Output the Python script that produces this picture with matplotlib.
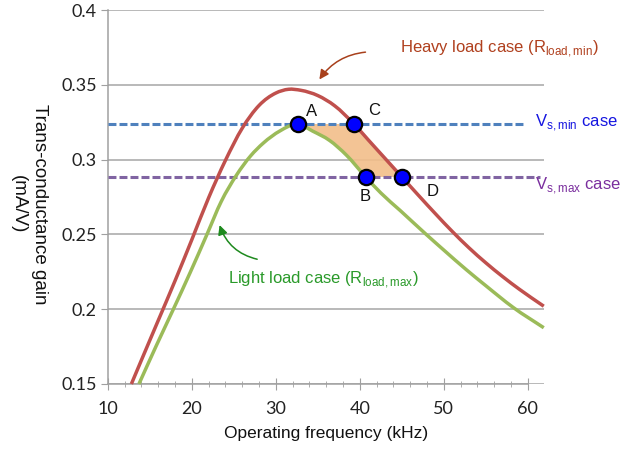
import matplotlib
matplotlib.use("Agg")
import matplotlib.pyplot as plt
from matplotlib.path import Path
from matplotlib.patches import PathPatch
import numpy as np

# ---- data ----
heavy_f = [12.8, 14, 16, 18, 20, 22, 24, 26, 28, 30, 31.5, 33, 35, 37, 39.3, 41, 43, 45,
           47, 49, 51, 53, 55, 57, 59, 61.9]
heavy_g = [0.150, 0.166, 0.1925, 0.219, 0.2465, 0.2745, 0.2995, 0.3210, 0.3362, 0.3445,
           0.347, 0.3463, 0.3428, 0.3360, 0.3238, 0.3132, 0.3008, 0.2884, 0.2760, 0.2638,
           0.2520, 0.2410, 0.2310, 0.2218, 0.2133, 0.2020]

light_f = [13.7, 15.8, 17.8, 19.8, 21.8, 23.5, 25.3, 27, 28.5, 30.5, 32.6, 34.4, 36.4,
           38.4, 40.7, 42.5, 44.8, 47.9, 50, 52.7, 55, 58.25, 61.9]
light_g = [0.150, 0.176, 0.200, 0.2245, 0.250, 0.272, 0.2895, 0.3025, 0.311, 0.3192,
           0.3238, 0.3190, 0.3128, 0.3030, 0.2884, 0.2777, 0.2660, 0.2500, 0.2395, 0.2263,
           0.2157, 0.2012, 0.1876]

vs_min, vs_max = 0.3238, 0.2884
pt_names = ["A", "C", "B", "D"]
pt_f = [32.6, 39.3, 40.7, 45.0]
pt_g = [vs_min, vs_min, vs_max, vs_max]

RED, GREEN, BLUE_D, PURP_D = "#C0504D", "#9BBB59", "#4F81BD", "#8064A2"
plt.rcParams["font.family"] = ["Liberation Sans", "DejaVu Sans"]


def bez_segments(xs, ys):
    """Cubic Hermite (x-monotone) segments through the points, as Bezier controls."""
    x, y = np.asarray(xs, float), np.asarray(ys, float)
    d = np.diff(y) / np.diff(x)
    m = np.empty_like(y)
    m[0], m[-1] = d[0], d[-1]
    h = np.diff(x)
    m[1:-1] = (d[:-1] * h[1:] + d[1:] * h[:-1]) / (h[:-1] + h[1:])
    segs = []
    for i in range(len(x) - 1):
        p0, p1 = (x[i], y[i]), (x[i + 1], y[i + 1])
        c1 = (x[i] + h[i] / 3, y[i] + m[i] * h[i] / 3)
        c2 = (x[i + 1] - h[i] / 3, y[i + 1] - m[i + 1] * h[i] / 3)
        segs.append((p0, c1, c2, p1))
    return segs


def curve_path(segs):
    verts, codes = [segs[0][0]], [Path.MOVETO]
    for p0, c1, c2, p1 in segs:
        verts += [c1, c2, p1]
        codes += [Path.CURVE4] * 3
    return Path(verts, codes)


fig = plt.figure(figsize=(6.42, 4.49), dpi=100)
ax = fig.add_axes([0.168, 0.1448, 0.679, 0.8329])
ax.set_xlim(10, 61.9)
ax.set_ylim(0.15, 0.4)

hs = bez_segments(heavy_f, heavy_g)
ls_ = bez_segments(light_f, light_g)

# shaded operating region A-C-D-B
iC, iD = heavy_f.index(pt_f[1]), heavy_f.index(pt_f[3])
iA, iB = light_f.index(pt_f[0]), light_f.index(pt_f[2])
verts = [(pt_f[0], pt_g[0]), (pt_f[1], pt_g[1])]
codes = [Path.MOVETO, Path.LINETO]
for p0, c1, c2, p1 in hs[iC:iD]:
    verts += [c1, c2, p1]
    codes += [Path.CURVE4] * 3
verts.append((pt_f[2], pt_g[2]))
codes.append(Path.LINETO)
for p0, c1, c2, p1 in reversed(ls_[iA:iB]):
    verts += [c2, c1, p0]
    codes += [Path.CURVE4] * 3
verts.append(verts[0])
codes.append(Path.CLOSEPOLY)
ax.add_patch(PathPatch(Path(verts, codes), fc="#F2BE8A", ec="none", alpha=0.9, zorder=2))

ax.plot([10, 59.4], [vs_min, vs_min], color=BLUE_D, lw=2.2, ls=(0, (2.6, 1)), zorder=3)
ax.plot([10, 61.5], [vs_max, vs_max], color=PURP_D, lw=2.2, ls=(0, (2.6, 1)), zorder=3)

ax.add_patch(PathPatch(curve_path(hs), fc="none", ec=RED, lw=2.5, zorder=4,
                       clip_on=False, capstyle="butt"))
ax.add_patch(PathPatch(curve_path(ls_), fc="none", ec=GREEN, lw=2.5, zorder=4,
                       clip_on=False, capstyle="butt"))

ax.plot(pt_f, pt_g, "o", ms=11, mfc="#0000FF", mec="black", mew=1.6, zorder=6)
lab_pos = {"A": (34.3, 0.332), "C": (41.7, 0.3325), "B": (40.6, 0.2755), "D": (48.7, 0.279)}
for n in pt_names:
    ax.text(*lab_pos[n], n, fontsize=12, ha="center", va="center", color="#111")

ax.text(60.8, 0.325, r"V$_\mathregular{s,min}$ case", color="#1515E0", fontsize=12,
        va="center", clip_on=False)
ax.text(60.8, 0.2824, r"V$_\mathregular{s,max}$ case", color="#7A2E9E", fontsize=12,
        va="center", clip_on=False)

ax.text(44.8, 0.374, r"Heavy load case (R$_\mathregular{load,min}$)", color="#B0401E",
        fontsize=12, va="center", clip_on=False)
ax.annotate("", xy=(35.0, 0.352), xytext=(41.0, 0.372),
            arrowprops=dict(arrowstyle="-|>", color="#A8401C", lw=1.1,
                            connectionstyle="arc3,rad=0.25", mutation_scale=14))
ax.text(24.3, 0.2196, r"Light load case (R$_\mathregular{load,max}$)", color="#2A9A2A",
        fontsize=12, va="center")
ax.annotate("", xy=(23.2, 0.258), xytext=(28.1, 0.233),
            arrowprops=dict(arrowstyle="-|>", color="#1E8A1E", lw=1.1,
                            connectionstyle="arc3,rad=-0.3", mutation_scale=14))

# axes styling
ax.set_yticks([0.15, 0.2, 0.25, 0.3, 0.35, 0.4])
ax.set_yticklabels(["0.15", "0.2", "0.25", "0.3", "0.35", "0.4"])
ax.set_xticks([10, 20, 30, 40, 50, 60])
ax.set_xticks(np.arange(12, 60, 2), minor=True)
ax.grid(axis="y", color="#A6A6A6", lw=1.1, zorder=0)
for sp in ("top", "right"):
    ax.spines[sp].set_visible(False)
for sp in ("left", "bottom"):
    ax.spines[sp].set_color("#A0A0A0")
    ax.spines[sp].set_linewidth(1.1)
ax.spines["bottom"].set_bounds(10, 60)
ax.tick_params(axis="y", direction="out", length=5, color="#A0A0A0", labelsize=13,
               labelcolor="#222", pad=3)
ax.tick_params(axis="x", which="major", direction="inout", length=8, color="#A0A0A0",
               labelsize=13, labelcolor="#222", pad=8)
ax.tick_params(axis="x", which="minor", direction="inout", length=5, color="#A0A0A0")
for lbl in ax.get_xticklabels() + ax.get_yticklabels():
    lbl.set_family(["Lato", "DejaVu Sans"])

ax.set_xlabel("Operating frequency (kHz)", fontsize=12.5, color="#111", labelpad=7)
fig.text(0.045, 0.545, "Trans-conductance gain\n(mA/V)", rotation=-90, fontsize=13.5,
         ha="center", va="center", color="#111", linespacing=1.25)

fig.savefig("out.png", dpi=100, facecolor="white")
